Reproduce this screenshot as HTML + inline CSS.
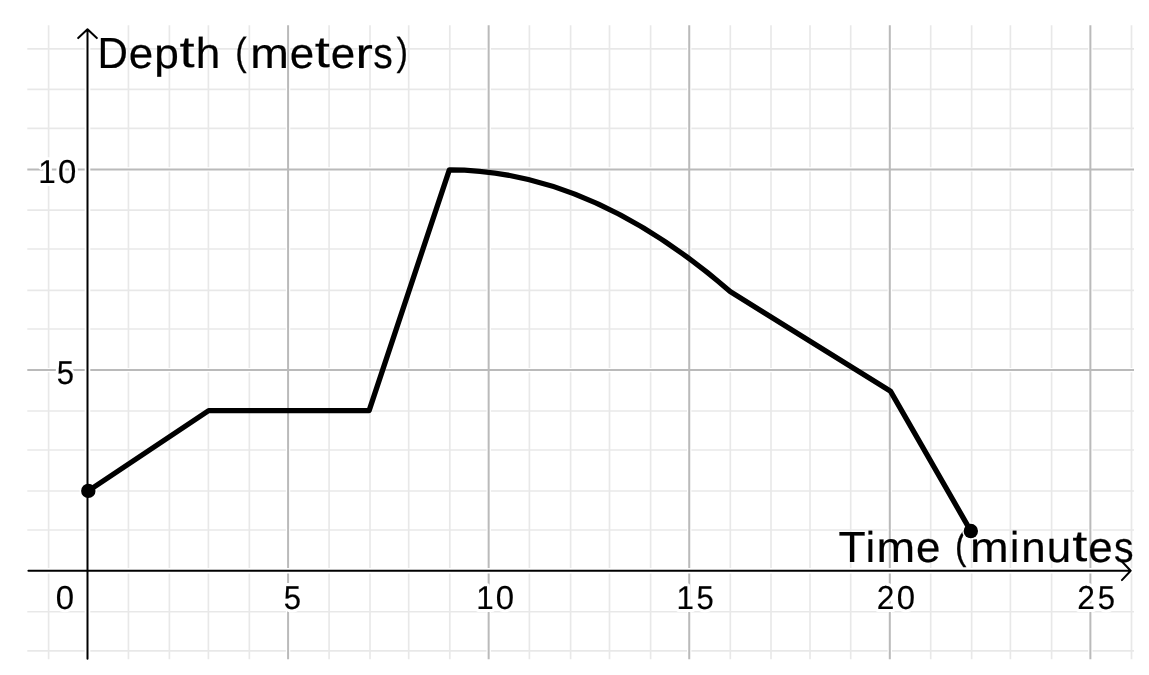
<!DOCTYPE html><html><head><meta charset="utf-8"><style>html,body{margin:0;padding:0;background:#fff;overflow:hidden}svg{display:block;will-change:transform}text{font-family:"Liberation Sans",sans-serif;text-rendering:geometricPrecision}</style></head><body>
<svg width="1149" height="675" viewBox="0 0 1149 675">
<rect width="1149" height="675" fill="#fff"/>
<path d="M48.60 25.30V659.30M128.45 25.30V659.30M169.40 25.30V659.30M208.40 25.30V659.30M249.35 25.30V659.30M329.10 25.30V659.30M370.00 25.30V659.30M408.70 25.30V659.30M449.80 25.30V659.30M529.40 25.30V659.30M570.60 25.30V659.30M609.50 25.30V659.30M650.60 25.30V659.30M730.30 25.30V659.30M771.00 25.30V659.30M810.00 25.30V659.30M850.70 25.30V659.30M930.70 25.30V659.30M971.65 25.30V659.30M1010.40 25.30V659.30M1051.60 25.30V659.30M1131.50 25.30V659.30M27.30 650.80H1134.00M27.30 611.75H1134.00M27.30 530.00H1134.00M27.30 491.00H1134.00M27.30 450.00H1134.00M27.30 411.00H1134.00M27.30 329.00H1134.00M27.30 290.35H1134.00M27.30 249.00H1134.00M27.30 210.20H1134.00M27.30 128.40H1134.00M27.30 89.40H1134.00M27.30 48.80H1134.00" stroke="rgba(0,0,0,0.09)" stroke-width="1.7" fill="none"/>
<path d="M288.08 25.30V659.30M488.65 25.30V659.30M689.23 25.30V659.30M889.80 25.30V659.30M1090.38 25.30V659.30M27.30 370.10H1134.00M27.30 169.40H1134.00" stroke="#fff" stroke-width="4.4" fill="none"/>
<path d="M288.08 25.30V659.30M488.65 25.30V659.30M689.23 25.30V659.30M889.80 25.30V659.30M1090.38 25.30V659.30M27.30 370.10H1134.00M27.30 169.40H1134.00" stroke="#bababa" stroke-width="2.0" fill="none"/>
<text transform="matrix(0.32889 0 0 0.33330 55.812 609.416)" font-size="100" fill="#fff" stroke="#fff" stroke-width="17.64" stroke-linejoin="round">0</text>
<text transform="matrix(0.31039 0 0 0.33231 283.764 609.417)" font-size="100" fill="#fff" stroke="#fff" stroke-width="18.69" stroke-linejoin="round">5</text>
<text transform="matrix(0.31412 0 0 0.33060 476.205 609.300)" font-size="100" fill="#fff" stroke="#fff" stroke-width="18.46" stroke-linejoin="round">1</text>
<text transform="matrix(0.32889 0 0 0.33330 495.792 609.416)" font-size="100" fill="#fff" stroke="#fff" stroke-width="17.64" stroke-linejoin="round">0</text>
<text transform="matrix(0.31412 0 0 0.33060 676.505 609.300)" font-size="100" fill="#fff" stroke="#fff" stroke-width="18.46" stroke-linejoin="round">1</text>
<text transform="matrix(0.31039 0 0 0.33231 696.485 609.417)" font-size="100" fill="#fff" stroke="#fff" stroke-width="18.69" stroke-linejoin="round">5</text>
<text transform="matrix(0.31702 0 0 0.33164 876.711 609.300)" font-size="100" fill="#fff" stroke="#fff" stroke-width="18.30" stroke-linejoin="round">2</text>
<text transform="matrix(0.32889 0 0 0.33330 896.642 609.416)" font-size="100" fill="#fff" stroke="#fff" stroke-width="17.64" stroke-linejoin="round">0</text>
<text transform="matrix(0.31702 0 0 0.33164 1077.311 609.300)" font-size="100" fill="#fff" stroke="#fff" stroke-width="18.30" stroke-linejoin="round">2</text>
<text transform="matrix(0.31039 0 0 0.33231 1097.635 609.417)" font-size="100" fill="#fff" stroke="#fff" stroke-width="18.69" stroke-linejoin="round">5</text>
<text transform="matrix(0.31412 0 0 0.33060 38.307 182.700)" font-size="100" fill="#fff" stroke="#fff" stroke-width="18.46" stroke-linejoin="round">1</text>
<text transform="matrix(0.32889 0 0 0.33330 57.895 182.816)" font-size="100" fill="#fff" stroke="#fff" stroke-width="17.64" stroke-linejoin="round">0</text>
<text transform="matrix(0.31039 0 0 0.33231 56.657 383.617)" font-size="100" fill="#fff" stroke="#fff" stroke-width="18.69" stroke-linejoin="round">5</text>
<text transform="matrix(0.42109 0 0 0.43444 97.452 67.800)" font-size="100" fill="#000" stroke="#000" stroke-width="0.47" stroke-linejoin="round">D</text>
<text transform="matrix(0.43961 0 0 0.42973 128.629 67.961)" font-size="100" fill="#000" stroke="#000" stroke-width="0.45" stroke-linejoin="round">e</text>
<text transform="matrix(0.44279 0 0 0.42263 154.134 67.558)" font-size="100" fill="#000" stroke="#000" stroke-width="0.45" stroke-linejoin="round">p</text>
<text transform="matrix(0.54396 0 0 0.43999 179.396 67.456)" font-size="100" fill="#000" stroke="#000" stroke-width="0.37" stroke-linejoin="round">t</text>
<text transform="matrix(0.44186 0 0 0.42989 195.717 67.800)" font-size="100" fill="#000" stroke="#000" stroke-width="0.45" stroke-linejoin="round">h</text>
<text transform="matrix(0.34404 0 0 0.39195 235.181 65.091)" font-size="100" fill="#000" stroke="#000" stroke-width="0.58" stroke-linejoin="round">(</text>
<text transform="matrix(0.46372 0 0 0.42674 250.312 67.800)" font-size="100" fill="#000" stroke="#000" stroke-width="0.43" stroke-linejoin="round">m</text>
<text transform="matrix(0.43961 0 0 0.42973 289.720 67.961)" font-size="100" fill="#000" stroke="#000" stroke-width="0.45" stroke-linejoin="round">e</text>
<text transform="matrix(0.54396 0 0 0.43999 314.652 67.456)" font-size="100" fill="#000" stroke="#000" stroke-width="0.37" stroke-linejoin="round">t</text>
<text transform="matrix(0.43961 0 0 0.42973 330.718 67.961)" font-size="100" fill="#000" stroke="#000" stroke-width="0.45" stroke-linejoin="round">e</text>
<text transform="matrix(0.52147 0 0 0.42674 355.614 67.800)" font-size="100" fill="#000" stroke="#000" stroke-width="0.38" stroke-linejoin="round">r</text>
<text transform="matrix(0.39014 0 0 0.43088 373.233 67.960)" font-size="100" fill="#000" stroke="#000" stroke-width="0.51" stroke-linejoin="round">s</text>
<text transform="matrix(0.34404 0 0 0.39195 396.375 65.091)" font-size="100" fill="#000" stroke="#000" stroke-width="0.58" stroke-linejoin="round">)</text>
<clipPath id="c"><rect x="0" y="0" width="1133.5" height="675"/></clipPath>
<g clip-path="url(#c)"><text transform="matrix(0.44390 0 0 0.43444 838.606 561.700)" font-size="100" fill="#000" stroke="#000" stroke-width="0.45" stroke-linejoin="round">T</text><text transform="matrix(0.41604 0 0 0.42989 865.636 561.700)" font-size="100" fill="#000" stroke="#000" stroke-width="0.48" stroke-linejoin="round">i</text><text transform="matrix(0.46372 0 0 0.42674 876.508 561.700)" font-size="100" fill="#000" stroke="#000" stroke-width="0.43" stroke-linejoin="round">m</text><text transform="matrix(0.43961 0 0 0.42973 915.916 561.861)" font-size="100" fill="#000" stroke="#000" stroke-width="0.45" stroke-linejoin="round">e</text><text transform="matrix(0.34404 0 0 0.39195 954.879 558.991)" font-size="100" fill="#000" stroke="#000" stroke-width="0.58" stroke-linejoin="round">(</text><text transform="matrix(0.46372 0 0 0.42674 970.011 561.700)" font-size="100" fill="#000" stroke="#000" stroke-width="0.43" stroke-linejoin="round">m</text><text transform="matrix(0.41604 0 0 0.42989 1010.093 561.700)" font-size="100" fill="#000" stroke="#000" stroke-width="0.48" stroke-linejoin="round">i</text><text transform="matrix(0.43881 0 0 0.42674 1021.131 561.700)" font-size="100" fill="#000" stroke="#000" stroke-width="0.46" stroke-linejoin="round">n</text><text transform="matrix(0.43881 0 0 0.43753 1046.752 561.853)" font-size="100" fill="#000" stroke="#000" stroke-width="0.46" stroke-linejoin="round">u</text><text transform="matrix(0.54396 0 0 0.43999 1072.208 561.356)" font-size="100" fill="#000" stroke="#000" stroke-width="0.37" stroke-linejoin="round">t</text><text transform="matrix(0.43961 0 0 0.42973 1088.275 561.861)" font-size="100" fill="#000" stroke="#000" stroke-width="0.45" stroke-linejoin="round">e</text><text transform="matrix(0.39014 0 0 0.43088 1114.057 561.860)" font-size="100" fill="#000" stroke="#000" stroke-width="0.51" stroke-linejoin="round">s</text></g>
<text transform="matrix(0.32889 0 0 0.33330 55.812 609.416)" font-size="100" fill="#000" stroke="#000" stroke-width="0.46" stroke-linejoin="round">0</text>
<text transform="matrix(0.31039 0 0 0.33231 283.764 609.417)" font-size="100" fill="#000" stroke="#000" stroke-width="0.48" stroke-linejoin="round">5</text>
<text transform="matrix(0.31412 0 0 0.33060 476.205 609.300)" font-size="100" fill="#000" stroke="#000" stroke-width="0.48" stroke-linejoin="round">1</text>
<text transform="matrix(0.32889 0 0 0.33330 495.792 609.416)" font-size="100" fill="#000" stroke="#000" stroke-width="0.46" stroke-linejoin="round">0</text>
<text transform="matrix(0.31412 0 0 0.33060 676.505 609.300)" font-size="100" fill="#000" stroke="#000" stroke-width="0.48" stroke-linejoin="round">1</text>
<text transform="matrix(0.31039 0 0 0.33231 696.485 609.417)" font-size="100" fill="#000" stroke="#000" stroke-width="0.48" stroke-linejoin="round">5</text>
<text transform="matrix(0.31702 0 0 0.33164 876.711 609.300)" font-size="100" fill="#000" stroke="#000" stroke-width="0.47" stroke-linejoin="round">2</text>
<text transform="matrix(0.32889 0 0 0.33330 896.642 609.416)" font-size="100" fill="#000" stroke="#000" stroke-width="0.46" stroke-linejoin="round">0</text>
<text transform="matrix(0.31702 0 0 0.33164 1077.311 609.300)" font-size="100" fill="#000" stroke="#000" stroke-width="0.47" stroke-linejoin="round">2</text>
<text transform="matrix(0.31039 0 0 0.33231 1097.635 609.417)" font-size="100" fill="#000" stroke="#000" stroke-width="0.48" stroke-linejoin="round">5</text>
<text transform="matrix(0.31412 0 0 0.33060 38.307 182.700)" font-size="100" fill="#000" stroke="#000" stroke-width="0.48" stroke-linejoin="round">1</text>
<text transform="matrix(0.32889 0 0 0.33330 57.895 182.816)" font-size="100" fill="#000" stroke="#000" stroke-width="0.46" stroke-linejoin="round">0</text>
<text transform="matrix(0.31039 0 0 0.33231 56.657 383.617)" font-size="100" fill="#000" stroke="#000" stroke-width="0.48" stroke-linejoin="round">5</text>
<path d="M28.40 570.80H1130.70M87.50 658.70V29.30" stroke="#fff" stroke-width="5.6" fill="none" stroke-linecap="round"/>
<circle cx="88.30" cy="490.92" r="8.7" fill="#fff"/>
<circle cx="970.83" cy="531.06" r="8.7" fill="#fff"/>
<path d="M28.40 570.80H1130.70M1121.90 561.50L1130.70 570.80L1121.90 580.10M87.50 658.70V29.30M78.20 38.10L87.50 29.30L96.80 38.10" stroke="#000" stroke-width="2.0" fill="none" stroke-linecap="round" stroke-linejoin="round"/>
<path d="M88.30 490.92L208.65 410.64L369.11 410.64L449.34 169.80Q589.74 169.80 730.14 291.42L890.60 391.37L970.83 531.06" stroke="#000" stroke-width="5.3" fill="none" stroke-linejoin="round" stroke-linecap="round"/>
<circle cx="88.30" cy="490.92" r="7.2" fill="#000"/>
<circle cx="970.83" cy="531.06" r="7.2" fill="#000"/>
</svg></body></html>
